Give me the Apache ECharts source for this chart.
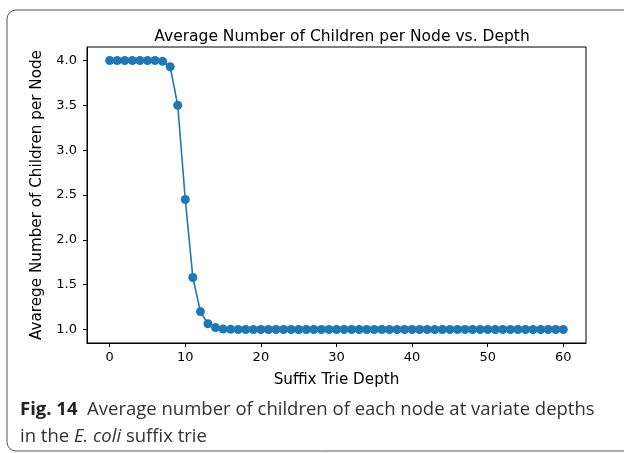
<!DOCTYPE html>
<html>
<head>
<meta charset="utf-8">
<script src="https://cdn.jsdelivr.net/npm/echarts@6/dist/echarts.min.js"></script>
<style>
  html, body { margin: 0; padding: 0; background: #fff; }
  #main { width: 624px; height: 453px; }
</style>
</head>
<body>
<div id="main"></div>
<script>
  // trie depth 0..60
  var depths = [];
  for (var d = 0; d <= 60; d++) depths.push(d);

  // avg children per node
  var avgChildren = [
    4.0, 4.0, 4.0, 4.0, 4.0, 4.0, 4.0, 3.99, 3.93, 3.50,
    2.45, 1.58, 1.20, 1.065, 1.022, 1.006, 1.002, 1.0, 1.0, 1.0,
    1.0, 1.0, 1.0, 1.0, 1.0, 1.0, 1.0, 1.0, 1.0, 1.0,
    1.0, 1.0, 1.0, 1.0, 1.0, 1.0, 1.0, 1.0, 1.0, 1.0,
    1.0, 1.0, 1.0, 1.0, 1.0, 1.0, 1.0, 1.0, 1.0, 1.0,
    1.0, 1.0, 1.0, 1.0, 1.0, 1.0, 1.0, 1.0, 1.0, 1.0,
    1.0
  ];

  var xTicks = [0, 10, 20, 30, 40, 50, 60];
  var yTicks = [1.0, 1.5, 2.0, 2.5, 3.0, 3.5, 4.0];

  var points = depths.map(function (x, i) { return [x, avgChildren[i]]; });

  var myChart = echarts.init(document.getElementById('main'));
  var option = {
    animation: false,
    backgroundColor: '#fff',
    title: {
      text: 'Average Number of Children per Node vs. Depth',
      left: 337,
      textAlign: 'center',
      top: 24,
      textStyle: { fontFamily: 'DejaVu Sans', fontSize: 15.5, fontWeight: 'normal', color: '#000' }
    },
    grid: {
      left: 87, top: 47, right: 38, bottom: 110,
      show: true, borderColor: '#000', borderWidth: 1
    },
    xAxis: {
      type: 'value',
      min: -3, max: 63,
      name: 'Suffix Trie Depth',
      nameLocation: 'middle',
      nameGap: 30,
      nameTextStyle: { fontFamily: 'DejaVu Sans', fontSize: 15.2, color: '#000' },
      splitLine: { show: false },
      axisLine: { onZero: false, lineStyle: { color: '#000' } },
      axisTick: { length: 4, lineStyle: { color: '#000' }, customValues: xTicks },
      axisLabel: { customValues: xTicks, margin: 8, fontFamily: 'DejaVu Sans', fontSize: 13, color: '#000' }
    },
    yAxis: {
      type: 'value',
      min: 0.85, max: 4.15,
      name: 'Avarege Number of Children per Node',
      nameLocation: 'middle',
      nameGap: 42,
      nameTextStyle: { fontFamily: 'DejaVu Sans', fontSize: 15.2, color: '#000' },
      splitLine: { show: false },
      axisLine: { show: true, onZero: false, lineStyle: { color: '#000' } },
      axisTick: { show: true, length: 4, lineStyle: { color: '#000' }, customValues: yTicks },
      axisLabel: {
        customValues: yTicks, margin: 10, fontFamily: 'DejaVu Sans', fontSize: 13, color: '#000',
        formatter: function (v) { return v.toFixed(1); }
      }
    },
    series: [{
      type: 'line',
      data: points,
      symbol: 'circle',
      symbolSize: 9,
      itemStyle: { color: '#1f77b4' },
      lineStyle: { color: '#1f77b4', width: 1.6 }
    }],
    graphic: [
      {
        type: 'rect',
        shape: { x: 7, y: 10, width: 700, height: 441, r: 9 },
        style: { fill: 'none', stroke: '#555', lineWidth: 1 },
        silent: true
      },
      {
        type: 'text',
        left: 20, top: 400,
        style: {
          text: '{b|Fig. 14}  Average number of children of each node at variate depths',
          font: '18.5px "Open Sans"',
          fill: '#333',
          rich: {
            b: { fontWeight: 'bold', fontFamily: 'Open Sans', fontSize: 18.5, fill: '#222' }
          }
        }
      },
      {
        type: 'text',
        left: 20, top: 427,
        style: {
          text: 'in the {i|E. coli} suffix trie',
          font: '18.5px "Open Sans"',
          fill: '#333',
          rich: {
            i: { fontStyle: 'italic', fontFamily: 'Open Sans', fontSize: 18.5, fill: '#333' }
          }
        }
      }
    ]
  };
  myChart.setOption(option);
</script>
</body>
</html>
